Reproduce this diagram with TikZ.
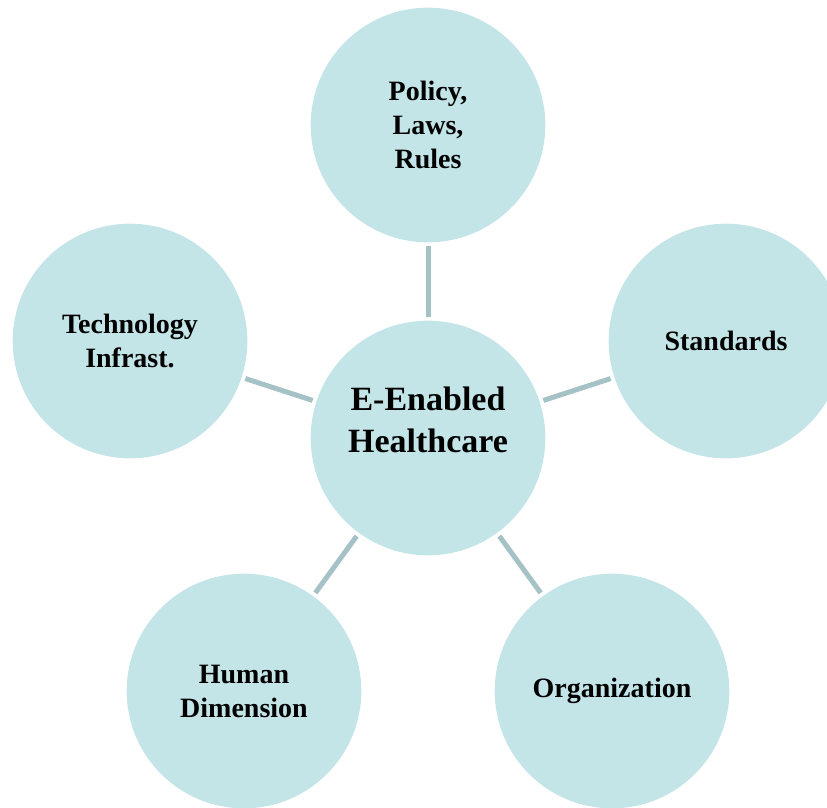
\documentclass[tikz,border=0pt]{standalone}
\usepackage{fontspec}
\setmainfont{Liberation Serif}
\definecolor{bubblefill}{HTML}{C4E5E8}
\definecolor{spokeline}{HTML}{A5C2C6}

\begin{document}
\begin{tikzpicture}[x=0.75pt, y=-0.75pt,
  bubble/.style={circle, fill=bubblefill, minimum size=176pt, inner sep=0pt,
    outer sep=3pt, align=center, font=\bfseries\fontsize{21}{25.5}\selectfont},
  spoke/.style={draw=spokeline, line width=3.75pt}]
\clip (0, 0) rectangle (827, 807);

% Hub
\node[bubble] (hub) at (428, 438) {};
\node[align=center, font=\bfseries\fontsize{25.5}{31.5}\selectfont] (hubtext) at (428, 420) {E-Enabled\\Healthcare};

% Outer ring
\node[bubble] (policy) at (428, 125) {Policy,\\Laws,\\Rules};
\node[bubble] (standards) at (726, 341) {Standards};
\node[bubble] (orga) at (612, 691) {Organization};
\node[bubble] (human) at (244, 691) {Human\\Dimension};
\node[bubble] (techno) at (130, 341) {Technology\\Infrast.};

% Spokes
\foreach \n in {policy, standards, orga, human, techno}
  \draw[spoke] (hub) -- (\n);
\end{tikzpicture}
\end{document}
